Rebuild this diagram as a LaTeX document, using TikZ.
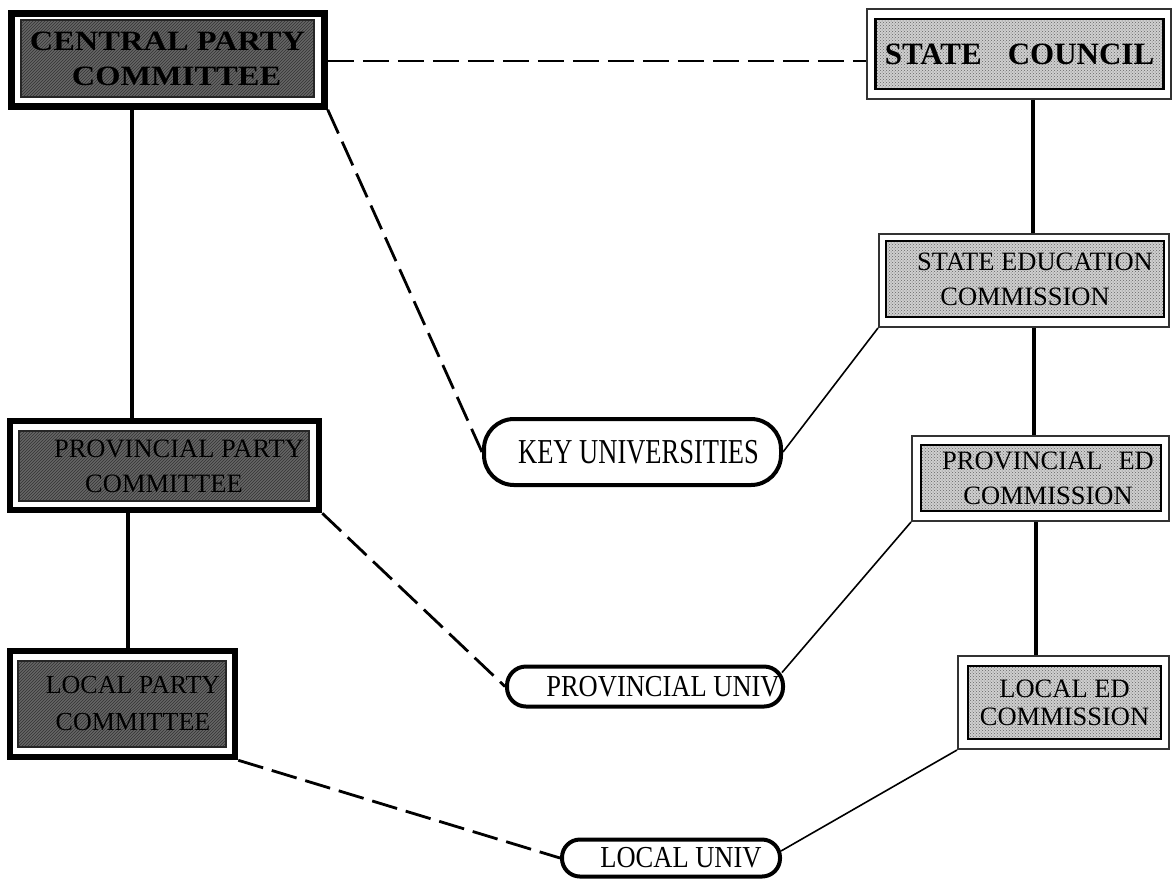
\documentclass[tikz,border=0pt]{standalone}
\usepackage{fontspec}
\setmainfont{Liberation Serif}
\newfontfamily\widebold{Liberation Serif}[FakeStretch=1.16]
\usetikzlibrary{patterns,calc}
\definecolor{partyfill}{HTML}{666666}
\definecolor{govfill}{HTML}{CFCFCF}
\tikzset{
  partyout/.style={draw=black, line width=6.5pt, fill=white, inner sep=0pt},
  partyin/.style={draw=black!85, line width=2pt, preaction={fill=partyfill},
    pattern=north east lines, pattern color=black!80, inner sep=0pt, align=center,
    text=black},
  govout/.style={draw=black!80, line width=2pt, fill=white, inner sep=0pt},
  govin/.style={draw=black, line width=2.2pt, preaction={fill=govfill},
    pattern=crosshatch dots, pattern color=black!60, inner sep=0pt, align=center},
  pill/.style={draw=black, line width=4pt, fill=white, inner sep=0pt},
  regtext/.style={font=\fontsize{26.5}{35}\selectfont},
  vline/.style={line width=4.5pt},
  dashline/.style={line width=2.8pt, dash pattern=on 26pt off 9pt},
  thinline/.style={line width=1.6pt}
}
\begin{document}
\begin{tikzpicture}[x=1pt,y=-1pt]
\useasboundingbox (0,0) rectangle (1174,879);
% party side
\node[partyout, minimum width=313, minimum height=93] (cpo) at (168,60) {};
\node[partyin, minimum width=293, minimum height=77,
  font=\widebold\bfseries\fontsize{28}{35}\selectfont] (cp) at (167.5,58.5)
  {CENTRAL PARTY\\\hspace*{18pt}COMMITTEE};
\node[partyout, minimum width=309, minimum height=89] (ppo) at (164.5,465.5) {};
\node[partyin, regtext, minimum width=290, minimum height=70] (pp) at (164,466)
  {\hspace*{30pt}PROVINCIAL PARTY\\COMMITTEE};
\node[partyout, minimum width=225, minimum height=106] (lpo) at (122.5,704) {};
\node[partyin, font=\fontsize{26}{37}\selectfont, minimum width=208, minimum height=86] (lp) at (122,704)
  {\hspace*{22pt}LOCAL PARTY\\\hspace*{22pt}COMMITTEE};
% government side
\node[govout, minimum width=304, minimum height=90] (sco) at (1019,54) {};
\node[govin, minimum width=288, minimum height=70,
  font=\bfseries\fontsize{31}{35}\selectfont] (sc) at (1019.5,54)
  {STATE\hspace{26pt}COUNCIL};
\node[govout, minimum width=290, minimum height=93] (seco) at (1024,280.5) {};
\node[govin, regtext, minimum width=278, minimum height=76] (sec) at (1025,279)
  {\hspace*{20pt}STATE EDUCATION\\COMMISSION};
\node[govout, minimum width=257, minimum height=85] (peco) at (1040.5,478.5) {};
\node[govin, regtext, minimum width=240, minimum height=66] (pec) at (1041,478)
  {\hspace*{14pt}PROVINCIAL\hspace{16pt}ED\\\hspace*{14pt}COMMISSION};
\node[govout, minimum width=211, minimum height=93] (leco) at (1063.5,702.5) {};
\node[govin, font=\fontsize{26.5}{28}\selectfont, minimum width=193, minimum height=73] (lec) at (1064.5,702.5)
  {LOCAL ED\\COMMISSION};
% universities
\node[pill, regtext, rounded corners=30pt, minimum width=297, minimum height=66] (ku) at (632.5,452)
  {\hspace*{12pt}\scalebox{1}[1.32]{KEY UNIVERSITIES}};
\node[pill, regtext, rounded corners=19pt, minimum width=276, minimum height=40] (pu) at (645,686.5)
  {\hspace*{36pt}\scalebox{1}[1.15]{PROVINCIAL UNIV}};
\node[pill, regtext, rounded corners=18pt, minimum width=218, minimum height=37] (lu) at (671,858)
  {\hspace*{20pt}\scalebox{1}[1.15]{LOCAL UNIV}};
% line positions
\coordinate (xa) at (132,0);
\coordinate (xb) at (128,0);
\coordinate (xc) at (1033,0);
\coordinate (xd) at (1034,0);
\coordinate (xe) at (1036,0);
% vertical hierarchy lines
\draw[vline] (cpo.south -| xa) -- (ppo.north -| xa);
\draw[vline] (ppo.south -| xb) -- (lpo.north -| xb);
\draw[vline] (sco.south -| xc) -- (seco.north -| xc);
\draw[vline] (seco.south -| xd) -- (peco.north -| xd);
\draw[vline] (peco.south -| xe) -- (leco.north -| xe);
% dashed party links
\draw[dashline] (cpo.east |- 0,61) -- (sco.west |- 0,61);
\draw[dashline] (cpo.south east) -- (ku.west);
\draw[dashline] (ppo.south east) -- (pu.west);
\draw[dashline] (lpo.south east) -- (lu.west);
% thin government links
\draw[thinline] (seco.south west) -- (ku.east);
\draw[thinline] (peco.south west) -- ($(pu.east)+(-3,-14)$);
\draw[thinline] (leco.south west) -- ($(lu.east)+(-1,-7)$);
\end{tikzpicture}
\end{document}
